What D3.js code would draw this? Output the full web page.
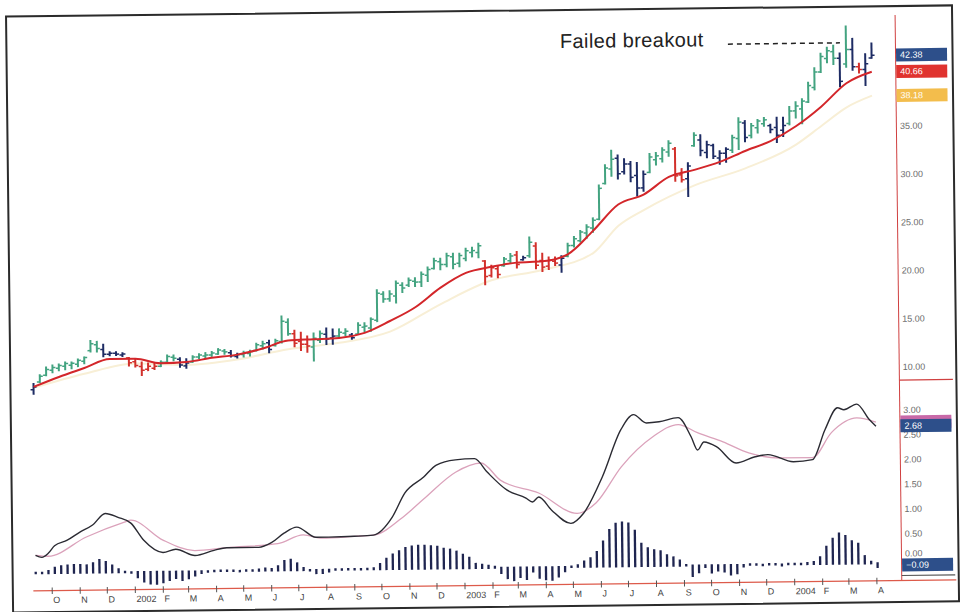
<!DOCTYPE html>
<meta charset="utf-8">
<style>
body { margin: 0; background: #fff; }
svg { display: block; font-family: "Liberation Sans", Arial, sans-serif; }
.axis-label { font-size: 9px; fill: #6b6b6b; }
.month-label { font-size: 9px; fill: #444; }
.value-box text { font-size: 9px; fill: #fff; }
</style>
<svg width="960" height="612"></svg>
<script src="https://d3js.org/d3.v7.min.js"></script>
<script>

// weekly bars, Sep 2001 - Apr 2004
var opens = [8.7, 9.5, 10.2, 10.7, 10.9, 11.1, 11.2, 11.3, 11.6, 12.7,
  13.3, 12.8, 12.3, 12.4, 12.2, 11.9, 11.5, 11.0, 10.7, 10.8,
  11.0, 11.4, 11.9, 11.7, 11.0, 11.4, 11.9, 12.0, 12.1, 12.2,
  12.5, 12.3, 11.9, 12.1, 12.2, 12.5, 13.0, 13.3, 13.0, 13.4,
  15.4, 14.2, 13.4, 13.1, 12.8, 13.5, 14.1, 13.7, 13.9, 14.2,
  14.0, 14.1, 14.8, 14.7, 15.5, 18.2, 17.7, 18.0, 19.1, 19.1,
  19.5, 19.4, 20.1, 20.8, 21.5, 21.2, 22.0, 21.3, 21.8, 22.4,
  22.4, 21.5, 20.0, 20.7, 21.0, 21.5, 22.1, 21.6, 22.0, 23.0,
  21.5, 20.9, 21.4, 21.0, 21.9, 23.0, 23.5, 24.3, 24.8, 25.7,
  29.4, 30.9, 32.0, 30.6, 31.4, 30.2, 28.9, 30.5, 31.8, 31.9,
  32.6, 32.9, 30.2, 29.8, 33.2, 33.8, 32.5, 33.2, 31.9, 32.4,
  32.7, 33.9, 35.5, 34.2, 35.0, 35.4, 35.2, 35.0, 34.7, 35.4,
  36.7, 36.9, 37.6, 39.1, 40.7, 42.1, 42.8, 42.1, 41.5, 43.0,
  41.2, 40.9, 42.1];

var highs = [9.4, 10.3, 11.1, 11.3, 11.4, 11.6, 11.6, 11.9, 12.1, 13.8,
  13.7, 13.4, 12.6, 12.6, 12.5, 12.0, 11.8, 11.5, 11.4, 11.4,
  11.6, 12.2, 12.2, 11.9, 11.8, 12.1, 12.3, 12.4, 12.5, 12.8,
  12.7, 12.6, 12.3, 12.5, 12.6, 13.3, 13.5, 13.6, 13.7, 16.1,
  15.8, 14.6, 14.4, 14.0, 14.3, 14.5, 14.8, 14.7, 14.7, 14.7,
  14.2, 15.3, 15.3, 15.8, 18.7, 18.5, 18.6, 19.6, 19.4, 19.9,
  19.9, 20.5, 21.0, 21.9, 21.9, 22.4, 22.4, 22.4, 22.9, 23.0,
  23.4, 21.6, 21.1, 21.0, 21.9, 22.3, 22.5, 22.0, 24.0, 23.4,
  22.3, 21.9, 21.9, 22.0, 23.3, 24.0, 24.6, 25.2, 25.9, 29.3,
  31.4, 32.9, 32.4, 32.0, 31.7, 31.6, 30.7, 32.5, 32.6, 33.1,
  33.8, 33.1, 30.9, 31.5, 34.6, 34.4, 33.7, 33.4, 32.7, 33.0,
  34.3, 36.1, 35.8, 35.5, 35.9, 36.1, 35.4, 36.1, 36.1, 37.2,
  37.7, 38.0, 39.7, 41.2, 42.7, 43.3, 43.5, 42.7, 45.5, 44.2,
  41.6, 42.6, 43.7];

var lows = [8.2, 9.4, 10.1, 10.4, 10.6, 10.7, 10.8, 11.0, 11.3, 12.5,
  12.5, 12.0, 12.1, 12.1, 12.0, 11.0, 10.9, 10.0, 10.5, 10.6,
  10.9, 11.3, 11.5, 10.8, 10.7, 11.3, 11.7, 11.8, 11.9, 12.1,
  12.1, 11.8, 11.7, 11.8, 11.9, 12.4, 12.6, 12.2, 12.9, 13.2,
  14.0, 12.8, 12.4, 12.2, 11.3, 13.2, 13.0, 13.0, 13.7, 13.9,
  13.5, 14.0, 14.3, 14.3, 15.3, 17.3, 17.4, 17.2, 18.3, 18.9,
  18.9, 18.9, 19.4, 20.7, 20.6, 20.9, 20.7, 20.9, 21.5, 21.9,
  21.8, 19.0, 19.8, 19.7, 20.9, 21.2, 20.7, 21.5, 21.8, 20.6,
  20.3, 20.5, 20.9, 20.2, 21.8, 22.8, 23.3, 23.7, 24.3, 25.6,
  29.3, 30.1, 29.8, 30.3, 29.5, 28.0, 28.5, 30.4, 31.2, 31.5,
  32.1, 29.5, 29.4, 27.9, 33.1, 32.1, 31.9, 31.8, 31.2, 31.4,
  32.4, 32.7, 33.5, 33.9, 34.4, 35.1, 34.4, 33.4, 34.0, 35.2,
  35.9, 35.3, 37.5, 38.8, 40.6, 41.6, 41.4, 39.1, 41.1, 40.8,
  40.5, 39.2, 42.0];

var closes = [9.0, 10.1, 10.8, 11.0, 11.2, 11.4, 11.4, 11.7, 12.0, 13.4,
  12.9, 12.3, 12.4, 12.3, 12.3, 11.4, 11.1, 10.6, 11.0, 11.0,
  11.4, 12.0, 11.8, 11.1, 11.3, 11.9, 12.1, 12.1, 12.3, 12.6,
  12.4, 12.0, 12.1, 12.3, 12.4, 13.1, 13.2, 12.6, 13.5, 15.5,
  14.2, 13.2, 13.1, 12.9, 13.7, 14.2, 13.6, 13.9, 14.3, 14.4,
  13.7, 15.0, 14.9, 15.6, 18.3, 17.7, 18.2, 19.3, 18.8, 19.6,
  19.4, 20.2, 20.7, 21.6, 21.2, 22.1, 21.2, 22.1, 22.6, 22.6,
  23.1, 19.9, 20.8, 20.1, 21.7, 22.0, 21.1, 21.8, 23.4, 21.0,
  20.8, 21.5, 21.2, 21.7, 23.0, 23.7, 24.4, 24.9, 25.6, 28.9,
  31.0, 31.9, 30.4, 31.4, 30.0, 28.9, 30.3, 32.1, 32.2, 32.8,
  33.5, 30.1, 29.7, 31.1, 34.3, 32.7, 33.3, 32.1, 32.4, 32.8,
  34.0, 35.6, 34.0, 35.2, 35.7, 35.8, 34.8, 34.2, 35.2, 36.7,
  37.2, 37.7, 39.3, 40.7, 42.3, 42.9, 42.1, 39.7, 43.0, 41.2,
  40.9, 41.5, 42.38];

// bar colour per week: g = green, b = blue, r = red
var impulse = ["b", "gggggggggg", "bbbb", "rrrrr", "ggg", "bb", "gggggg", "bb",
  "gggg", "b", "ggg", "rrr", "gg", "bb", "gg", "b", "gggggggggggggggggggg",
  "rrr", "gg", "r", "b", "g", "rrrr", "b", "gggggggg", "bbbbb", "gggg", "rr",
  "b", "g", "bbbbb", "gg", "b", "ggg", "bbb", "gggggggg", "b", "g", "b", "r",
  "b", "b"].join("");

// moving averages, read at these week numbers
var emaWeeks = [0, 4, 8, 12, 16, 20, 24, 28, 32, 36, 40, 44, 48, 52, 56, 60, 64,
  68, 72, 76, 80, 84, 88, 92, 96, 100, 104, 108, 112, 116, 120, 124, 128, 132];
var emaValues = [9.0, 10.0, 10.9, 11.8, 11.8, 11.3, 11.4, 11.8, 12.1, 12.7, 13.5,
  13.6, 13.7, 14.2, 15.4, 16.8, 18.8, 20.3, 20.9, 21.3, 21.4, 22.1, 24.5, 27.2,
  28.2, 30.0, 30.7, 31.5, 32.6, 33.6, 35.1, 37.1, 39.5, 40.66];

var slowWeeks = [0, 8, 16, 24, 32, 40, 48, 56, 64, 72, 80, 88, 92, 96, 104, 112,
  120, 124, 128, 132];
var slowValues = [8.9, 10.3, 11.3, 11.1, 11.6, 12.6, 13.2, 14.3, 17.1, 19.5, 20.5,
  22.2, 25.0, 26.6, 29.1, 30.8, 33.2, 35.1, 37.0, 38.18];

// MACD and signal
var macdWeeks = [0, 1, 2, 3, 5, 7, 9, 11, 13, 15, 17, 20, 22, 25, 28, 30, 35, 37,
  39, 41, 44, 46, 50, 53, 56, 58, 61, 63, 66, 69, 71, 74, 77, 78, 79, 81, 84, 86,
  89, 92, 94, 96, 98, 101, 103, 104, 105, 107, 110, 113, 115, 119, 122, 124, 126,
  127, 129, 131, 132];
var macdValues = [0.27, 0.23, 0.31, 0.46, 0.57, 0.73, 0.87, 1.10, 1.02, 0.90, 0.55,
  0.30, 0.36, 0.23, 0.33, 0.38, 0.38, 0.47, 0.66, 0.78, 0.57, 0.57, 0.58, 0.60,
  0.96, 1.44, 1.76, 2.00, 2.10, 2.12, 1.84, 1.48, 1.31, 1.23, 1.33, 1.06, 0.79,
  0.99, 1.72, 2.67, 2.97, 2.80, 2.82, 2.90, 2.51, 2.24, 2.40, 2.30, 1.97, 2.09,
  2.13, 1.98, 2.02, 2.62, 3.06, 3.02, 3.13, 2.81, 2.68];

var signalWeeks = [0, 2, 8, 14, 15, 20, 25, 30, 38, 42, 45, 50, 53, 58, 61, 66, 70,
  73, 79, 85, 88, 92, 97, 101, 104, 108, 112, 117, 122, 125, 129, 132];
var signalValues = [0.27, 0.25, 0.63, 0.92, 0.96, 0.55, 0.33, 0.38, 0.45, 0.62,
  0.55, 0.58, 0.60, 0.99, 1.32, 1.85, 2.03, 1.68, 1.41, 0.99, 1.20, 1.92, 2.52,
  2.76, 2.59, 2.40, 2.17, 2.06, 2.06, 2.56, 2.85, 2.76];

var histValues = [0.02, 0.02, 0.06, 0.12, 0.15, 0.16, 0.17, 0.17, 0.16, 0.2, 0.26,
  0.22, 0.15, 0.08, 0.03,
  -0.03, -0.12, -0.2, -0.24, -0.25, -0.22, -0.18, -0.14, -0.18, -0.15, -0.1,
  -0.05, -0.02,
  0.01, 0.02, 0.01, 0.02, -0.02, 0.02, 0.02, 0.04, 0.06, 0.05, 0.1, 0.2, 0.22,
  0.15, 0.06, -0.02,
  -0.08, -0.08, -0.05, 0.01, 0.02, 0.01, 0.01, 0.02, 0.02, 0.04, 0.12, 0.22, 0.3,
  0.36, 0.42, 0.45, 0.46, 0.46, 0.45, 0.44, 0.4, 0.38, 0.34, 0.28, 0.22, 0.1,
  0.08, 0.06, 0.04,
  -0.12, -0.22, -0.26, -0.2, -0.24, -0.1, -0.22, -0.25, -0.26, -0.2, -0.1, 0.02,
  0.05,
  0.12, 0.18, 0.3, 0.5, 0.72, 0.84, 0.86, 0.84, 0.7, 0.45, 0.36, 0.32, 0.3, 0.22,
  0.18, 0.12, 0.02,
  -0.22, -0.15, -0.05, -0.16, -0.12, -0.14, -0.2, -0.18, -0.05, 0.01, 0.02,
  -0.02, 0.03, 0.02, -0.04, 0.02, 0.03, 0.02, 0.04, 0.06,
  0.15, 0.35, 0.5, 0.6, 0.55, 0.45, 0.4, 0.16, 0.05, -0.09];

var priceTicks = [10, 15, 20, 25, 30, 35];
var macdTicks = [0, 0.5, 1, 1.5, 2, 2.5, 3];
var monthNames = ["J", "F", "M", "A", "M", "J", "J", "A", "S", "O", "N", "D"];

var lastLabels = [
  {value: 42.38, color: "#2d4f8a"},
  {value: 40.66, color: "#e0332f"},
  {value: 38.18, color: "#f3bd4c"}
];

var colors = {g: "#43a380", b: "#1e2c64", r: "#d2302b"};

var svg = d3.select("svg");

// the scanned page sits slightly askew
var g = svg.append("g")
    .attr("transform", "rotate(-0.68,480,306)");

var fmt = d3.format(".2f");

var xBar = d3.scalePoint()
    .domain(d3.range(closes.length))
    .range([32.6, 874.5]);

var xTime = d3.scaleTime()
    .domain([new Date(2001, 8, 13), new Date(2004, 3, 2)])
    .range([32.6, 874.5]);

var yPrice = d3.scaleLinear().domain([10, 35]).range([372, 131]);
var yMacd = d3.scaleLinear().domain([0, 3]).range([563.5, 415]);
var yHist = d3.scaleLinear().domain([0, 1]).range([568, 516]);

// frame
g.append("rect")
    .attr("x", 9.5)
    .attr("y", 11)
    .attr("width", 946)
    .attr("height", 596)
    .attr("fill", "none")
    .attr("stroke", "#2b2b2b")
    .attr("stroke-width", 2);

// right axis lines
var axisX = 898.5;
g.append("line")
    .attr("x1", axisX).attr("x2", axisX)
    .attr("y1", 20).attr("y2", 586)
    .attr("stroke", "#d04040").attr("stroke-width", 1);
g.append("line")
    .attr("x1", axisX).attr("x2", 952)
    .attr("y1", 385).attr("y2", 385)
    .attr("stroke", "#d04040").attr("stroke-width", 1.2);
g.append("line")
    .attr("x1", axisX).attr("x2", 952)
    .attr("y1", 580.5).attr("y2", 580.5)
    .attr("stroke", "#555").attr("stroke-width", 1.2);

// bottom time axis
g.append("line")
    .attr("x1", 30).attr("x2", 953)
    .attr("y1", 585.5).attr("y2", 585.5)
    .attr("stroke", "#dd5a4a").attr("stroke-width", 1.2);

var months = xTime.ticks(d3.timeMonth.every(1));
var mt = g.append("g");
mt.selectAll("line")
    .data(months)
  .enter().append("line")
    .attr("x1", function(d) { return xTime(d); })
    .attr("x2", function(d) { return xTime(d); })
    .attr("y1", 582.5).attr("y2", 589)
    .attr("stroke", "#555").attr("stroke-width", 1);
mt.selectAll("text")
    .data(months)
  .enter().append("text")
    .attr("class", "month-label")
    .attr("x", function(d) { return xTime(d) + 1; })
    .attr("y", 598)
    .text(function(d) { return d.getMonth() === 0 ? d.getFullYear() : monthNames[d.getMonth()]; });

// price axis labels
g.selectAll(".ptick")
    .data(priceTicks)
  .enter().append("text")
    .attr("class", "axis-label")
    .attr("x", 902)
    .attr("y", function(d) { return yPrice(d) + 3; })
    .text(fmt);

// the zero label peeks out above the histogram box
g.selectAll(".mtick")
    .data(macdTicks)
  .enter().append("text")
    .attr("class", "axis-label")
    .attr("x", 902)
    .attr("y", function(d) { return d === 0 ? yMacd(d) - 2 : yMacd(d) + 3; })
    .text(fmt);

// slow average (pale yellow), then EMA (red)
var slowLine = d3.line()
    .x(function(d, i) { return xBar(slowWeeks[i]); })
    .y(function(d) { return yPrice(d); })
    .curve(d3.curveMonotoneX);
g.append("path")
    .datum(slowValues)
    .attr("d", slowLine)
    .attr("fill", "none")
    .attr("stroke", "#f8efd6")
    .attr("stroke-width", 2);

// OHLC bars
var bars = g.append("g").selectAll("g")
    .data(closes)
  .enter().append("g")
    .attr("stroke", function(d, i) { return colors[impulse[i]]; });

bars.append("line")
    .attr("x1", function(d, i) { return xBar(i); })
    .attr("x2", function(d, i) { return xBar(i); })
    .attr("y1", function(d, i) { return yPrice(highs[i]); })
    .attr("y2", function(d, i) { return yPrice(lows[i]); })
    .attr("stroke-width", 2);
bars.append("line")
    .attr("x1", function(d, i) { return xBar(i) - 3; })
    .attr("x2", function(d, i) { return xBar(i); })
    .attr("y1", function(d, i) { return yPrice(opens[i]); })
    .attr("y2", function(d, i) { return yPrice(opens[i]); })
    .attr("stroke-width", 1.5);
bars.append("line")
    .attr("x1", function(d, i) { return xBar(i); })
    .attr("x2", function(d, i) { return xBar(i) + 3; })
    .attr("y1", function(d) { return yPrice(d); })
    .attr("y2", function(d) { return yPrice(d); })
    .attr("stroke-width", 1.5);

var emaLine = d3.line()
    .x(function(d, i) { return xBar(emaWeeks[i]); })
    .y(function(d) { return yPrice(d); })
    .curve(d3.curveMonotoneX);
g.append("path")
    .datum(emaValues)
    .attr("d", emaLine)
    .attr("fill", "none")
    .attr("stroke", "#d3262a")
    .attr("stroke-width", 2);

// MACD histogram
g.append("g").selectAll("line")
    .data(histValues)
  .enter().append("line")
    .attr("x1", function(d, i) { return xBar(i); })
    .attr("x2", function(d, i) { return xBar(i); })
    .attr("y1", function(d) { return d >= 0 ? yHist(0) + 1 : yHist(0) - 1; })
    .attr("y2", function(d) {
      var y = yHist(d);
      if (Math.abs(y - yHist(0)) < 2) y = yHist(0) + (d >= 0 ? -1.5 : 1.5);
      return y;
    })
    .attr("stroke", "#1f2550")
    .attr("stroke-width", 2.3);

// MACD lines
var signalLine = d3.line()
    .x(function(d, i) { return xBar(signalWeeks[i]); })
    .y(function(d) { return yMacd(d); })
    .curve(d3.curveMonotoneX);
g.append("path")
    .datum(signalValues)
    .attr("d", signalLine)
    .attr("fill", "none")
    .attr("stroke", "#dba2bb")
    .attr("stroke-width", 1.3);

var macdLine = d3.line()
    .x(function(d, i) { return xBar(macdWeeks[i]); })
    .y(function(d) { return yMacd(d); })
    .curve(d3.curveMonotoneX);
g.append("path")
    .datum(macdValues)
    .attr("d", macdLine)
    .attr("fill", "none")
    .attr("stroke", "#2b2b33")
    .attr("stroke-width", 1.4);

// last value boxes on the right
var boxes = g.append("g").attr("class", "value-box");
function valueBox(y, color, label) {
  var b = boxes.append("g");
  b.append("rect")
      .attr("x", 899).attr("y", y - 6.5)
      .attr("width", 51).attr("height", 13)
      .attr("fill", color);
  if (label) {
    b.append("text")
        .attr("x", 903).attr("y", y + 3)
        .text(label);
  }
}
lastLabels.forEach(function(d) { valueBox(yPrice(d.value), d.color, fmt(d.value)); });
valueBox(yMacd(signalValues[signalValues.length - 1]), "#c869a8", null);
valueBox(yMacd(macdValues[macdValues.length - 1]), "#2d4f8a", fmt(macdValues[macdValues.length - 1]));
valueBox(yMacd(histValues[histValues.length - 1]) + 2, "#2d4f8a", fmt(histValues[histValues.length - 1]));

// annotation
g.append("text")
    .attr("x", 563)
    .attr("y", 49)
    .attr("font-size", 20)
    .attr("letter-spacing", 0.4)
    .attr("fill", "#222")
    .text("Failed breakout");
g.append("line")
    .attr("x1", 731).attr("x2", 843)
    .attr("y1", yPrice(43.7)).attr("y2", yPrice(43.7))
    .attr("stroke", "#222")
    .attr("stroke-width", 1.5)
    .attr("stroke-dasharray", "5,4");

</script>
